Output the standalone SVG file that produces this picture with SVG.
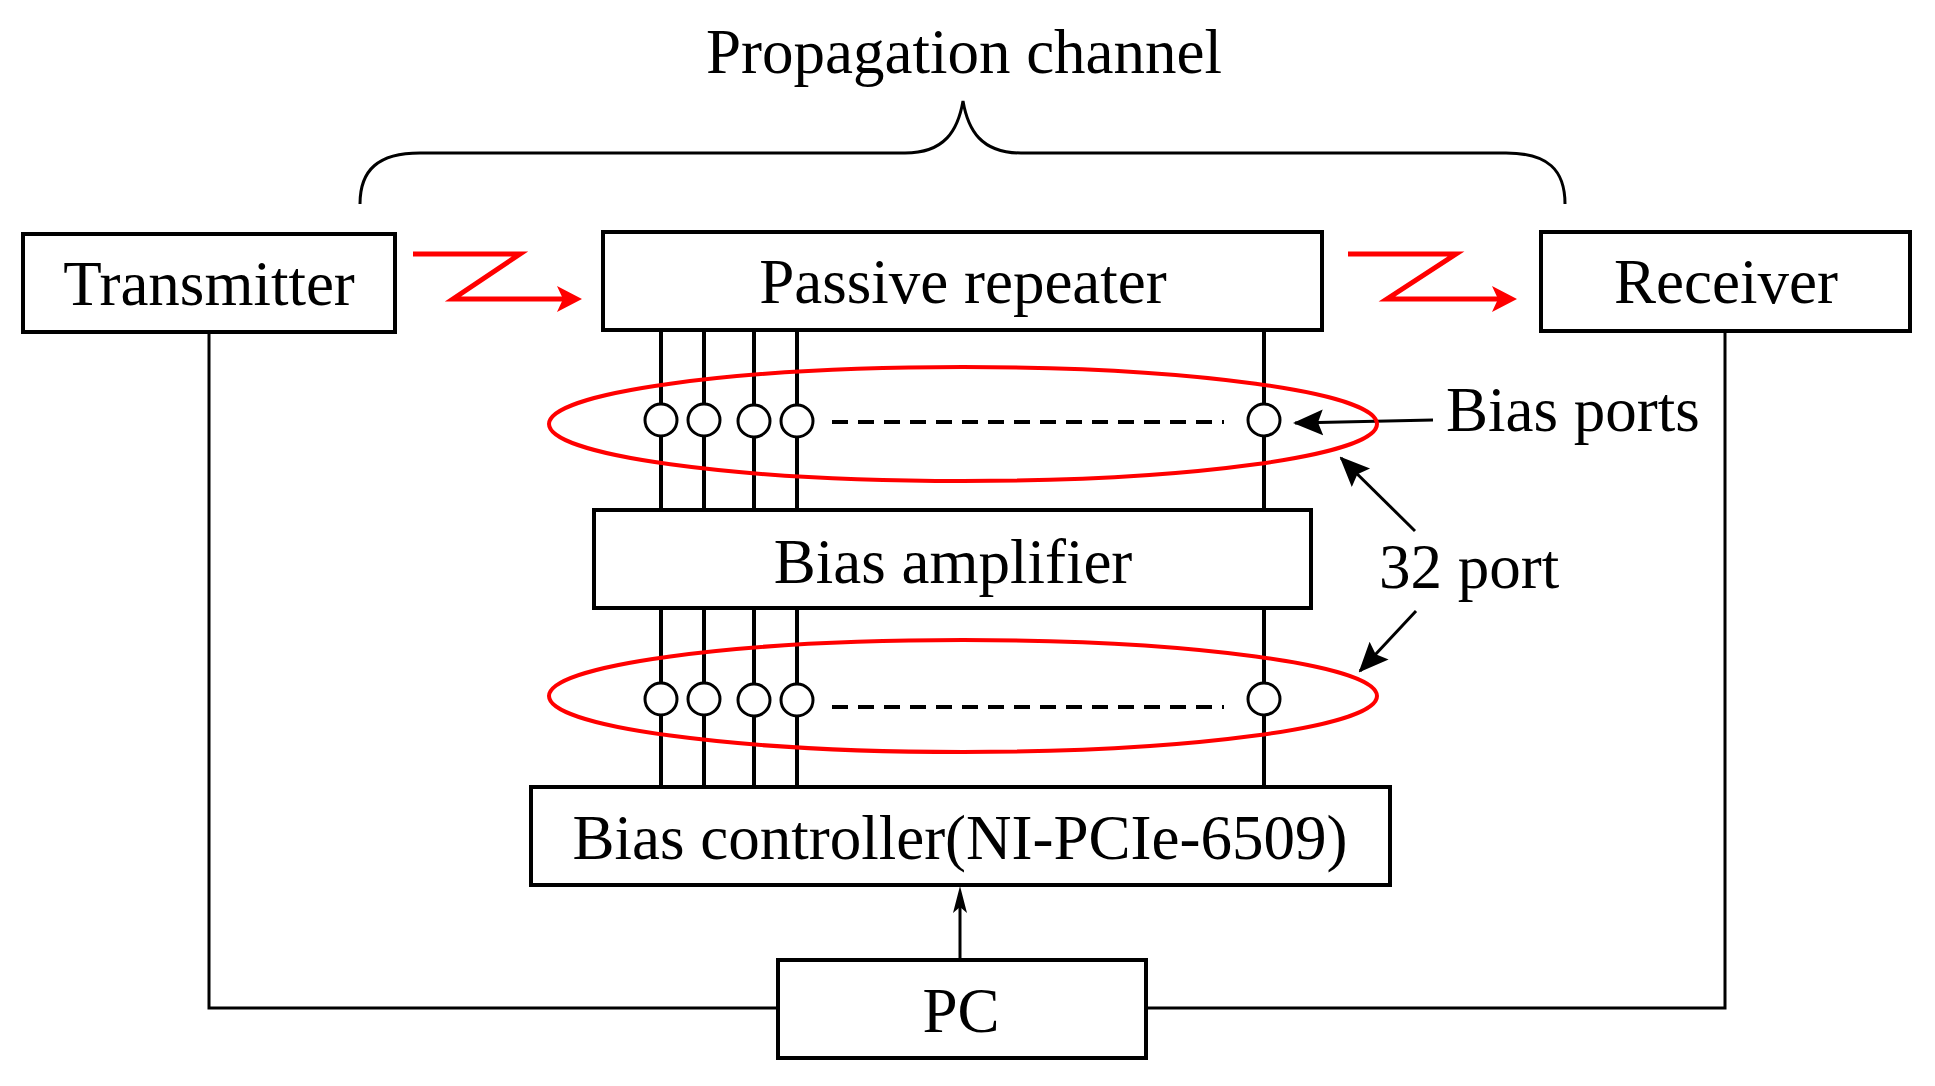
<svg xmlns="http://www.w3.org/2000/svg" width="1935" height="1086" viewBox="0 0 1935 1086">
<style>
.box{fill:#fff;stroke:#000;stroke-width:4}
.t{font-family:"Liberation Serif","Times New Roman",serif;font-size:63px;fill:#000}
.c{text-anchor:middle}
.ln{stroke:#000;stroke-width:4;fill:none}
.wire{stroke:#000;stroke-width:3;fill:none}
.port{fill:#fff;stroke:#000;stroke-width:3}
.dash{stroke:#000;stroke-width:4;stroke-dasharray:16 10;fill:none}
.ell{fill:none;stroke:#f00;stroke-width:4}
.red{stroke:#f00;stroke-width:5;fill:none}
.redhead{fill:#f00}
</style>
<defs>
<marker id="ah" viewBox="0 0 30 30" refX="28" refY="15" markerWidth="30" markerHeight="30" markerUnits="userSpaceOnUse" orient="auto">
<path d="M0,2 L30,15 L0,28 L5,15 Z" fill="#000"/>
</marker>
</defs>

<g id="brace">
<text class="t c" x="964" y="73">Propagation channel</text>
<path class="wire" d="M360,204 C360,170 378,153 420,153 L905,153 C945,153 958,130 963,101 C968,130 981,153 1021,153 L1506,153 C1548,153 1565,170 1565,204"/>
</g>

<g id="connectors">
<g class="ln">
<line x1="661" y1="330" x2="661" y2="510"/>
<line x1="704" y1="330" x2="704" y2="510"/>
<line x1="754" y1="330" x2="754" y2="510"/>
<line x1="797" y1="330" x2="797" y2="510"/>
<line x1="1264" y1="330" x2="1264" y2="510"/>
<line x1="661" y1="608" x2="661" y2="787"/>
<line x1="704" y1="608" x2="704" y2="787"/>
<line x1="754" y1="608" x2="754" y2="787"/>
<line x1="797" y1="608" x2="797" y2="787"/>
<line x1="1264" y1="608" x2="1264" y2="787"/>
</g>
<path class="wire" d="M209,332 L209,1008 L778,1008"/>
<path class="wire" d="M1725,331 L1725,1008 L1146,1008"/>
<line class="wire" x1="960" y1="960" x2="960" y2="900"/>
<path d="M960,886 L953,913 L960,907 L967,913 Z" fill="#000"/>
<path class="red" d="M413,254 L520,254 L453,299 L570,299"/>
<path class="redhead" d="M582,299 L557,286 L563,299 L557,312 Z"/>
<path class="red" d="M1348,254 L1456,254 L1387,299 L1505,299"/>
<path class="redhead" d="M1517,299 L1492,286 L1498,299 L1492,312 Z"/>
<line class="wire" x1="1433" y1="420" x2="1295" y2="423" marker-end="url(#ah)"/>
<line class="wire" x1="1415" y1="531" x2="1341" y2="458" marker-end="url(#ah)"/>
<line class="wire" x1="1416" y1="611" x2="1360" y2="671" marker-end="url(#ah)"/>
</g>

<g id="ports-top">
<ellipse class="ell" cx="963" cy="424" rx="414" ry="57"/>
<circle class="port" cx="661" cy="420" r="16"/>
<circle class="port" cx="704" cy="420" r="16"/>
<circle class="port" cx="754" cy="421" r="16"/>
<circle class="port" cx="797" cy="421" r="16"/>
<circle class="port" cx="1264" cy="420" r="16"/>
<line class="dash" x1="832" y1="422" x2="1224" y2="422"/>
</g>

<g id="ports-bottom">
<ellipse class="ell" cx="963" cy="696" rx="414" ry="56"/>
<circle class="port" cx="661" cy="699" r="16"/>
<circle class="port" cx="704" cy="699" r="16"/>
<circle class="port" cx="754" cy="700" r="16"/>
<circle class="port" cx="797" cy="700" r="16"/>
<circle class="port" cx="1264" cy="699" r="16"/>
<line class="dash" x1="832" y1="707" x2="1224" y2="707"/>
</g>

<g id="transmitter">
<rect class="box" x="23" y="234" width="372" height="98"/>
<text class="t c" x="209" y="305">Transmitter</text>
</g>
<g id="passive-repeater">
<rect class="box" x="603" y="232" width="719" height="98"/>
<text class="t c" x="963" y="303">Passive repeater</text>
</g>
<g id="receiver">
<rect class="box" x="1541" y="232" width="369" height="99"/>
<text class="t c" x="1726" y="303">Receiver</text>
</g>
<g id="bias-amplifier">
<rect class="box" x="594" y="510" width="717" height="98"/>
<text class="t c" x="953" y="583">Bias amplifier</text>
</g>
<g id="bias-controller">
<rect class="box" x="531" y="787" width="859" height="98"/>
<text class="t c" x="960" y="859">Bias controller(NI-PCIe-6509)</text>
</g>
<g id="pc">
<rect class="box" x="778" y="960" width="368" height="98"/>
<text class="t c" x="961" y="1032">PC</text>
</g>
<g id="labels">
<text class="t" x="1446" y="431">Bias ports</text>
<text class="t" x="1379" y="588">32 port</text>
</g>
</svg>
